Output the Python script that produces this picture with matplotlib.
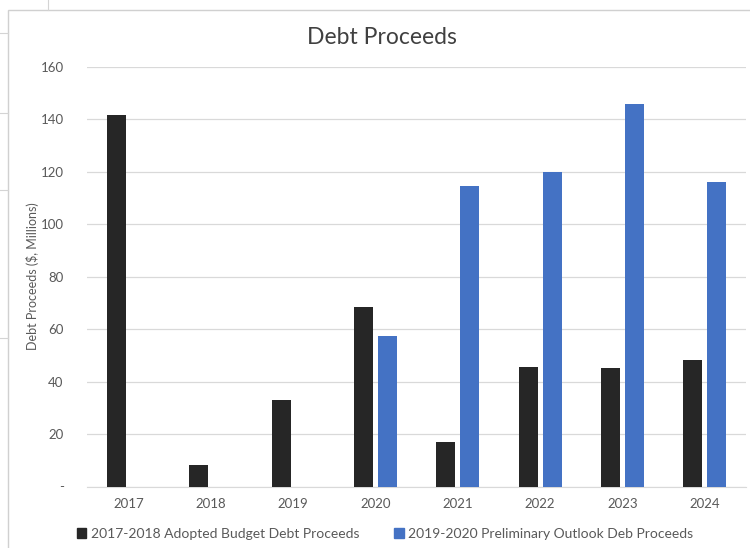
import numpy as np
import matplotlib.pyplot as plt
from matplotlib.patches import Rectangle
from matplotlib.lines import Line2D

plt.rcParams['font.family'] = ['Lato', 'DejaVu Sans']

years = ['2017', '2018', '2019', '2020', '2021', '2022', '2023', '2024']
adopted = [141.6, 8.2, 32.8, 68.4, 16.9, 45.6, 45.2, 48.2]
outlook = [0, 0, 0, 57.5, 114.4, 119.7, 145.7, 115.9]
yticks = [0, 20, 40, 60, 80, 100, 120, 140, 160]
ytick_labels = ['-', '20', '40', '60', '80', '100', '120', '140', '160']

black = '#262626'
blue = '#4472C4'
grey_txt = '#595959'

fig = plt.figure(figsize=(7.5, 5.48), dpi=100)

# spreadsheet cell lines around the chart object
for yy in [33, 113, 190, 338]:
    fig.add_artist(Line2D([0, 8 / 750], [1 - yy / 548] * 2, color='#d4d4d4', lw=0.8))
fig.add_artist(Line2D([48 / 750] * 2, [1, 1 - 10 / 548], color='#d4d4d4', lw=0.8))
# chart border
fig.add_artist(Rectangle((8 / 750, -0.1), 1.0, 1 - 10 / 548 + 0.1, fill=False,
                         edgecolor='#d0d0d0', lw=1.0))

ax = fig.add_axes([0.1164, 0.1122, 0.8783, 0.7664])
x = np.arange(len(years))
w = 0.23
ax.bar(x - 0.146, adopted, w, color=black, zorder=3)
ax.bar(x + 0.146, [v if v > 0 else np.nan for v in outlook], w, color=blue, zorder=3)

ax.set_xlim(-0.5, len(years) - 0.5)
ax.set_ylim(0, 160)
ax.set_yticks(yticks)
ax.set_yticklabels(ytick_labels)
ax.set_xticks(x)
ax.set_xticklabels(years)
ax.yaxis.grid(True, color='#d9d9d9', lw=0.9, zorder=0)
ax.set_axisbelow(True)
for s in ['top', 'right', 'left']:
    ax.spines[s].set_visible(False)
ax.spines['bottom'].set_color('#d9d9d9')
ax.tick_params(axis='both', length=0, colors=grey_txt, labelsize=9.5)
ax.tick_params(axis='y', pad=17)
ax.tick_params(axis='x', pad=8)

ax.set_ylabel('Debt Proceeds ($, Millions)', color=grey_txt, fontsize=9, labelpad=1)
fig.text(0.509, 1 - 37 / 548, 'Debt Proceeds', ha='center', va='center',
         fontsize=16.5, color='#404040')

handles = [Rectangle((0, 0), 1, 1, color=black), Rectangle((0, 0), 1, 1, color=blue)]
fig.legend(handles, ['2017-2018 Adopted Budget Debt Proceeds',
                     '2019-2020 Preliminary Outlook Deb Proceeds'],
           loc='center', bbox_to_anchor=(0.513, 1 - 534 / 548), ncol=2, frameon=False,
           fontsize=10, handlelength=0.7, handleheight=0.7, handletextpad=0.3,
           columnspacing=2.5, labelcolor=grey_txt)

fig.savefig('out.png', dpi=100, facecolor='white')
